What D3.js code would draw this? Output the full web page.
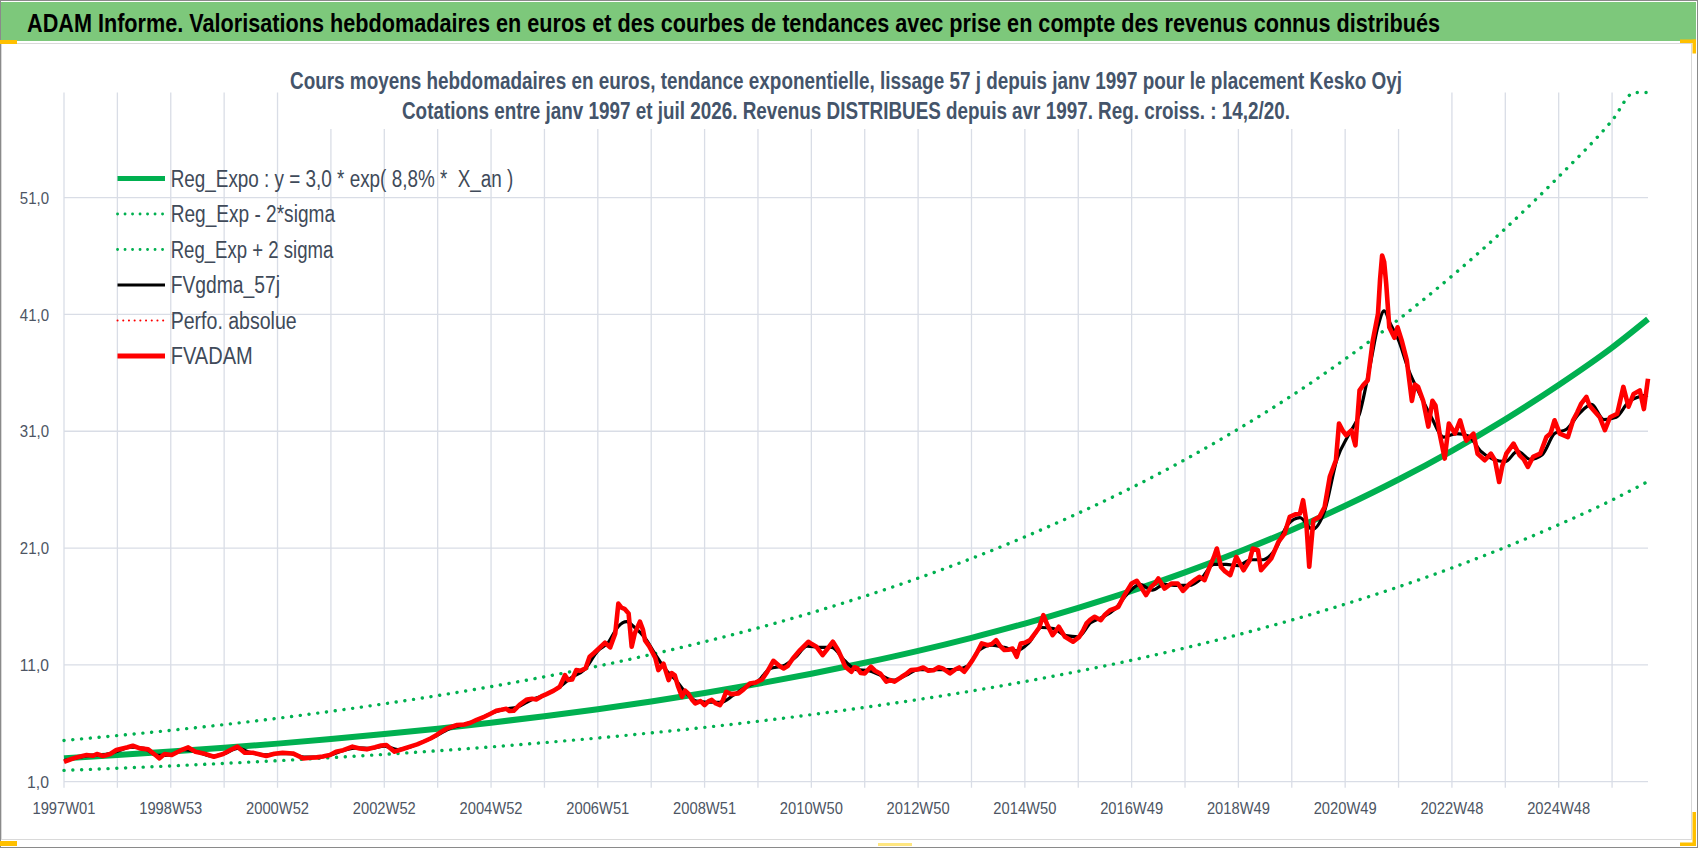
<!DOCTYPE html>
<html>
<head>
<meta charset="utf-8">
<script src="https://cdn.jsdelivr.net/npm/d3@7"></script>
<style>
  body { margin: 0; background: #fff; }
  svg { display: block; font-family: 'Liberation Sans', Arial, sans-serif; }
</style>
</head>
<body>
<div id="chart"></div>
<script>
// texts
const headerTitle = 'ADAM Informe. Valorisations hebdomadaires en euros et des courbes de tendances avec prise en compte des revenus connus distribués';
const chartTitle = [
    'Cours moyens hebdomadaires en euros, tendance exponentielle, lissage 57 j depuis janv 1997 pour le placement Kesko Oyj',
    'Cotations entre janv 1997 et juil 2026. Revenus DISTRIBUES depuis avr 1997. Reg. croiss. : 14,2/20.'
];
const seriesNames = ['Reg_Expo : y = 3,0 * exp( 8,8% *  X_an )', 'Reg_Exp - 2*sigma', 'Reg_Exp + 2 sigma', 'FVgdma_57j', 'Perfo. absolue', 'FVADAM'];

// axes
const lastWeek = 1543;
const xTickWeeks = [0, 104, 208, 312, 416, 520, 624, 728, 832, 936, 1040, 1144, 1248, 1352, 1456];
const xTickLabels = ['1997W01', '1998W53', '2000W52', '2002W52', '2004W52', '2006W51', '2008W51', '2010W50',
    '2012W50', '2014W50', '2016W49', '2018W49', '2020W49', '2022W48', '2024W48'];
const yTicks = [1, 11, 21, 31, 41, 51];
const yTickLabels = ['1,0', '11,0', '21,0', '31,0', '41,0', '51,0'];
const yMax = 60;

// trend curves, read once a year
const trendWeeks = [0, 52, 104, 156, 208, 260, 312, 364, 416, 468, 520, 572, 624, 676, 728, 780, 832, 884, 936, 988,
    1040, 1092, 1144, 1196, 1248, 1300, 1352, 1404, 1456, 1508, 1543];
const regExpo = [3.00, 3.28, 3.58, 3.90, 4.26, 4.65, 5.08, 5.54, 6.05, 6.61, 7.21, 7.87, 8.59, 9.38, 10.24, 11.18,
    12.20, 13.32, 14.54, 15.88, 17.33, 18.92, 20.66, 22.55, 24.62, 26.87, 29.33, 32.02, 34.96, 38.16, 40.6];
const regLow = [1.97, 2.15, 2.35, 2.57, 2.80, 3.06, 3.34, 3.65, 3.98, 4.35, 4.74, 5.18, 5.65, 6.17, 6.74, 7.36,
    8.03, 8.76, 9.57, 10.45, 11.40, 12.45, 13.59, 14.84, 16.20, 17.68, 19.30, 21.07, 23.00, 25.11, 26.7];
const highWeeks = [0, 52, 104, 156, 208, 260, 312, 364, 416, 468, 520, 572, 624, 676, 728, 780, 832, 884, 936, 988,
    1040, 1092, 1144, 1196, 1248, 1300, 1352, 1404, 1456, 1508, 1530, 1543];
const regHigh = [4.53, 4.95, 5.40, 5.89, 6.43, 7.02, 7.67, 8.37, 9.14, 9.98, 10.89, 11.89, 12.98, 14.16, 15.46, 16.88,
    18.42, 20.11, 21.96, 23.98, 26.17, 28.57, 31.20, 34.05, 37.18, 40.57, 44.29, 48.35, 52.79, 57.6, 60, 60];

// FVADAM weekly valuation (sampled)
const adamWeeks = [0, 6, 12, 18, 22, 28, 32, 38, 45, 51, 57, 62, 67, 74, 82, 89, 93, 98, 105, 113, 121, 128, 136, 146,
    155, 162, 169, 176, 184, 190, 197, 205, 213, 223, 233, 240, 246, 252, 259, 265, 272, 281, 288, 295, 303, 309, 314,
    322, 330, 337, 344, 350, 357, 363, 368, 373, 378, 383, 390, 396, 402, 408, 415, 421, 426, 431, 434, 438, 444, 451,
    456, 460, 465, 470, 477, 483, 488, 491, 495, 499, 503, 508, 512, 516, 521, 527, 532, 537, 540, 543, 546, 550, 553,
    556, 561, 564, 566, 570, 573, 576, 579, 584, 589, 592, 595, 598, 602, 605, 608, 612, 615, 620, 624, 628, 631, 635,
    639, 642, 645, 650, 657, 662, 668, 674, 680, 685, 691, 697, 701, 705, 710, 717, 725, 728, 733, 739, 744, 749, 754,
    758, 761, 767, 770, 773, 776, 780, 786, 790, 795, 801, 805, 809, 816, 820, 825, 831, 837, 842, 847, 852, 856, 863,
    868, 872, 877, 881, 885, 889, 894, 900, 904, 908, 912, 916, 920, 924, 928, 932, 936, 941, 947, 950, 954, 958, 963,
    966, 969, 975, 979, 983, 989, 993, 996, 1000, 1004, 1010, 1014, 1019, 1023, 1027, 1033, 1040, 1045, 1049, 1054,
    1059, 1063, 1066, 1072, 1079, 1085, 1090, 1097, 1102, 1106, 1111, 1116, 1120, 1123, 1127, 1131, 1136, 1142, 1149,
    1155, 1158, 1163, 1166, 1172, 1176, 1183, 1189, 1194, 1200, 1204, 1207, 1210, 1213, 1217, 1223, 1228, 1233, 1239,
    1242, 1246, 1249, 1254, 1258, 1262, 1266, 1270, 1275, 1280, 1282, 1284, 1286, 1288, 1291, 1296, 1299, 1303, 1308,
    1313, 1316, 1319, 1324, 1329, 1333, 1336, 1340, 1345, 1349, 1355, 1360, 1363, 1366, 1373, 1377, 1384, 1390, 1394,
    1398, 1401, 1405, 1412, 1418, 1422, 1426, 1431, 1438, 1444, 1448, 1452, 1457, 1465, 1470, 1474, 1478, 1483, 1486,
    1490, 1496, 1501, 1506, 1513, 1519, 1524, 1529, 1535, 1539, 1543];
const adamValues = [2.7, 2.9, 3.08, 3.2, 3.28, 3.22, 3.37, 3.2, 3.37, 3.71, 3.85, 3.95, 4.08, 3.85, 3.77, 3.28, 3.0,
    3.37, 3.28, 3.65, 3.94, 3.57, 3.42, 3.14, 3.37, 3.71, 4.0, 3.48, 3.48, 3.35, 3.2, 3.4, 3.48, 3.42, 3.0, 3.05, 3.08,
    3.15, 3.28, 3.57, 3.7, 4.0, 3.85, 3.77, 3.95, 4.1, 4.14, 3.57, 3.8, 4.0, 4.2, 4.42, 4.7, 5.0, 5.3, 5.56, 5.7, 5.85,
    5.9, 6.05, 6.3, 6.5, 6.8, 7.07, 7.15, 7.24, 7.05, 7.07, 7.6, 8.04, 8.1, 8.04, 8.3, 8.5, 8.8, 9.13, 10.12, 9.7, 9.75,
    10.55, 10.5, 10.7, 11.7, 12.0, 12.4, 12.9, 12.5, 13.7, 16.25, 15.9, 15.8, 15.4, 12.55, 13.7, 14.7, 14.0, 13.1, 12.6,
    12.1, 11.6, 10.55, 11.1, 9.7, 10.3, 10.1, 9.2, 8.27, 8.8, 8.56, 8.0, 7.7, 7.9, 7.56, 7.9, 8.0, 7.7, 7.56, 8.0, 8.7,
    8.5, 8.56, 8.9, 9.4, 9.5, 9.75, 10.4, 11.35, 10.9, 10.7, 10.9, 11.55, 12.27, 12.98, 12.8, 12.55, 11.84, 12.4, 12.98,
    12.27, 11.5, 10.84, 10.41, 10.8, 10.7, 10.3, 10.27, 10.84, 10.5, 10.27, 9.56, 9.7, 9.56, 9.98, 10.2, 10.55, 10.6,
    10.78, 10.5, 10.55, 10.8, 10.7, 10.27, 10.6, 10.78, 10.41, 10.9, 11.41, 12.0, 12.84, 12.69, 12.8, 13.12, 12.6,
    12.27, 12.3, 12.4, 11.69, 12.84, 12.9, 13.12, 13.83, 14.2, 15.26, 14.4, 13.55, 13.9, 14.26, 13.4, 13.2, 12.98, 13.4,
    14.0, 14.55, 14.9, 15.12, 14.83, 15.3, 15.69, 15.8, 15.97, 16.97, 17.97, 18.2, 17.68, 16.97, 17.68, 18.0, 18.4,
    17.54, 17.97, 17.97, 17.34, 17.97, 18.3, 18.54, 18.25, 19.39, 20.2, 20.96, 19.39, 19.0, 18.68, 20.25, 19.1, 19.96,
    20.96, 20.82, 19.1, 19.7, 20.1, 21.53, 22.24, 23.67, 23.9, 23.96, 25.1, 23.38, 19.4, 23.38, 23.67, 24.52, 27.1,
    28.52, 31.66, 31.0, 30.66, 31.08, 29.8, 34.5, 35.0, 35.36, 38.8, 41.06, 44.0, 46.05, 45.5, 43.6, 39.9, 39.0, 39.9,
    38.8, 37.1, 33.6, 35.0, 34.8, 33.6, 31.4, 33.6, 33.2, 30.8, 28.66, 31.66, 30.8, 31.94, 31.0, 30.2, 30.8, 29.08,
    28.52, 29.08, 28.5, 26.66, 28.0, 29.08, 29.94, 28.94, 28.6, 27.95, 28.8, 29.08, 30.5, 30.8, 31.94, 30.8, 30.5,
    31.94, 32.6, 33.37, 33.94, 33.2, 32.8, 32.2, 31.1, 32.2, 32.5, 34.8, 33.1, 34.2, 34.5, 32.9, 35.5];

// FVgdma_57j smoothed valuation (sampled)
const gdmaWeeks = [0, 13, 26, 39, 52, 65, 78, 91, 104, 117, 130, 143, 156, 169, 182, 195, 208, 221, 234, 247, 260,
    273, 286, 299, 312, 325, 338, 351, 364, 377, 390, 403, 416, 429, 442, 455, 468, 481, 494, 507, 520, 530, 540, 548,
    556, 566, 576, 586, 596, 606, 616, 628, 640, 652, 664, 676, 688, 700, 712, 724, 736, 748, 760, 772, 784, 796, 808,
    820, 832, 844, 856, 868, 880, 892, 904, 916, 928, 940, 952, 964, 976, 988, 1000, 1012, 1024, 1036, 1048, 1060,
    1072, 1084, 1096, 1108, 1120, 1132, 1144, 1156, 1168, 1180, 1192, 1204, 1216, 1228, 1240, 1252, 1262, 1272, 1280,
    1286, 1292, 1300, 1310, 1320, 1332, 1344, 1356, 1368, 1380, 1392, 1404, 1416, 1428, 1440, 1452, 1464, 1476, 1488,
    1500, 1512, 1524, 1536, 1543];
const gdmaValues = [2.8, 3.05, 3.25, 3.3, 3.6, 3.95, 3.85, 3.25, 3.3, 3.75, 3.55, 3.2, 3.4, 3.85, 3.5, 3.3, 3.4, 3.4,
    3.1, 3.1, 3.3, 3.7, 3.9, 3.85, 4.05, 3.75, 4.0, 4.45, 5.0, 5.6, 5.9, 6.3, 6.85, 7.2, 7.4, 8.0, 8.4, 9.0, 9.9, 10.6,
    12.2, 12.9, 14.3, 14.7, 14.2, 13.3, 11.9, 10.6, 9.7, 8.6, 7.9, 7.8, 7.8, 8.4, 9.1, 9.6, 10.7, 10.9, 11.6, 12.6,
    12.5, 12.5, 11.4, 10.6, 10.5, 10.1, 9.7, 10.1, 10.6, 10.6, 10.6, 10.6, 10.9, 12.3, 12.7, 12.5, 12.2, 12.9, 14.2,
    14.1, 13.5, 13.4, 14.6, 15.1, 15.8, 17.1, 17.9, 17.4, 17.9, 17.8, 17.8, 18.4, 19.6, 19.6, 19.5, 20.0, 20.0, 20.9,
    23.0, 23.6, 22.6, 24.2, 28.6, 30.8, 32.5, 36.5, 40.0, 41.3, 40.2, 38.8, 36.2, 34.3, 32.2, 30.5, 30.8, 30.6, 29.3,
    28.6, 28.4, 29.3, 28.6, 29.0, 30.8, 31.2, 32.5, 33.3, 32.0, 32.2, 33.5, 34.0, 34.1];

const width = 1698;
const height = 848;
const plot = { left: 64, right: 1648, top: 92.5, bottom: 781.7 };

const svg = d3.select('#chart')
    .append('svg')
    .attr('width', width)
    .attr('height', height);

// sheet background, header band and chart frame
svg.append('rect')
    .attr('width', width)
    .attr('height', height)
    .attr('fill', '#fff');

svg.append('rect')
    .attr('x', 1)
    .attr('y', 2)
    .attr('width', 1695)
    .attr('height', 39)
    .attr('fill', '#7dc87b');

svg.append('text')
    .attr('x', 27)
    .attr('y', 32)
    .attr('font-size', 25)
    .attr('font-weight', 'bold')
    .attr('fill', '#000')
    .attr('textLength', 1413)
    .attr('lengthAdjust', 'spacingAndGlyphs')
    .text(headerTitle);

svg.append('rect')
    .attr('x', 1.5)
    .attr('y', 43.5)
    .attr('width', 1690)
    .attr('height', 796)
    .attr('fill', 'none')
    .attr('stroke', '#d9d9d9');

const x = d3.scaleLinear()
    .domain([0, lastWeek])
    .range([plot.left, plot.right]);

const y = d3.scaleLinear()
    .domain([1, yMax])
    .range([plot.bottom, plot.top]);

// gridlines
const grid = svg.append('g')
    .attr('stroke', '#d9dde6')
    .attr('stroke-width', 1.3);

grid.selectAll('line.h')
    .data(yTicks)
    .join('line')
    .attr('class', 'h')
    .attr('x1', plot.left)
    .attr('x2', plot.right)
    .attr('y1', d => y(d))
    .attr('y2', d => y(d));

grid.selectAll('line.v')
    .data(d3.range(0, lastWeek, 52))
    .join('line')
    .attr('class', 'v')
    .attr('x1', d => x(d))
    .attr('x2', d => x(d))
    .attr('y1', plot.top)
    .attr('y2', plot.bottom + 6);

// axis labels
svg.append('g')
    .attr('font-size', 17)
    .attr('fill', '#4d5563')
    .attr('text-anchor', 'end')
    .selectAll('text')
    .data(yTicks)
    .join('text')
    .attr('x', 49)
    .attr('y', d => y(d) + 6.2)
    .attr('textLength', (d, i) => yTickLabels[i].length * 7.3)
    .attr('lengthAdjust', 'spacingAndGlyphs')
    .text((d, i) => yTickLabels[i]);

svg.append('g')
    .attr('font-size', 17)
    .attr('fill', '#4d5563')
    .attr('text-anchor', 'middle')
    .selectAll('text')
    .data(xTickWeeks)
    .join('text')
    .attr('x', d => x(d))
    .attr('y', 813.5)
    .attr('textLength', 63)
    .attr('lengthAdjust', 'spacingAndGlyphs')
    .text((d, i) => xTickLabels[i]);

// series
const line = (weeks, curve) => d3.line()
    .x((d, i) => x(weeks[i]))
    .y(d => y(d))
    .curve(curve);

const green = '#00b050';
const series = svg.append('g').attr('fill', 'none');

series.append('path')
    .attr('d', line(trendWeeks, d3.curveMonotoneX)(regExpo))
    .attr('stroke', green)
    .attr('stroke-width', 6);

series.append('path')
    .attr('d', line(trendWeeks, d3.curveMonotoneX)(regLow))
    .attr('stroke', green)
    .attr('stroke-width', 3.4)
    .attr('stroke-linecap', 'round')
    .attr('stroke-dasharray', '0.1 8.7');

series.append('path')
    .attr('d', line(highWeeks, d3.curveMonotoneX)(regHigh))
    .attr('stroke', green)
    .attr('stroke-width', 3.4)
    .attr('stroke-linecap', 'round')
    .attr('stroke-dasharray', '0.1 8.7');

series.append('path')
    .attr('d', line(gdmaWeeks, d3.curveMonotoneX)(gdmaValues))
    .attr('stroke', '#000')
    .attr('stroke-width', 3.2)
    .attr('stroke-linejoin', 'round');

series.append('path')
    .attr('d', line(adamWeeks, d3.curveLinear)(adamValues))
    .attr('stroke', '#ff0000')
    .attr('stroke-width', 4.6)
    .attr('stroke-linejoin', 'round');

// chart title sits on a white box above the plot
svg.append('rect')
    .attr('x', 284)
    .attr('y', 60)
    .attr('width', 1126)
    .attr('height', 69)
    .attr('fill', '#fff');

svg.append('g')
    .attr('font-size', 23)
    .attr('font-weight', 'bold')
    .attr('fill', '#44546a')
    .attr('text-anchor', 'middle')
    .selectAll('text')
    .data(chartTitle)
    .join('text')
    .attr('x', 846)
    .attr('y', (_, i) => 88.5 + i * 30)
    .attr('textLength', (_, i) => [1112, 888][i])
    .attr('lengthAdjust', 'spacingAndGlyphs')
    .text(d => d);

// legend
const legendStyle = [
    { color: green, width: 5, dash: null },
    { color: green, width: 2.8, dash: '0.1 7.4' },
    { color: green, width: 2.8, dash: '0.1 7.4' },
    { color: '#000', width: 3.2, dash: null },
    { color: '#ff0000', width: 2, dash: '0.1 5.6' },
    { color: '#ff0000', width: 5, dash: null }
];
const legendRows = [178.5, 214, 249.5, 285, 320.5, 356];
const legendWidths = [342.7, 164.3, 162.7, 109.3, 126, 82];

const legend = svg.append('g');

legend.selectAll('line')
    .data(legendStyle)
    .join('line')
    .attr('x1', 117.5)
    .attr('x2', 165)
    .attr('y1', (_, i) => legendRows[i])
    .attr('y2', (_, i) => legendRows[i])
    .attr('stroke', d => d.color)
    .attr('stroke-width', d => d.width)
    .attr('stroke-linecap', d => d.dash ? 'round' : 'butt')
    .attr('stroke-dasharray', d => d.dash);

legend.selectAll('text')
    .data(seriesNames)
    .join('text')
    .attr('x', 170.7)
    .attr('y', (_, i) => legendRows[i] + 8.4)
    .attr('font-size', 23)
    .attr('fill', '#404a59')
    .attr('textLength', (_, i) => legendWidths[i])
    .attr('lengthAdjust', 'spacingAndGlyphs')
    .style('white-space', 'pre')
    .text(d => d);

// outer border and selection handles
svg.append('rect')
    .attr('x', 0.5)
    .attr('y', 0.5)
    .attr('width', width - 1)
    .attr('height', height - 1)
    .attr('fill', 'none')
    .attr('stroke', '#8a8a8a');

const handles = [
    [0, 40, 17, 4], [1680, 39.5, 16, 3.5], [1692.5, 39.5, 3.5, 14],
    [0, 841, 17, 5], [1692.5, 812, 3.5, 34], [1680, 842.5, 16, 3.5]
];
svg.append('g')
    .attr('fill', '#ffc000')
    .selectAll('rect')
    .data(handles)
    .join('rect')
    .attr('x', d => d[0])
    .attr('y', d => d[1])
    .attr('width', d => d[2])
    .attr('height', d => d[3]);

svg.append('rect')
    .attr('x', 878)
    .attr('y', 843)
    .attr('width', 34)
    .attr('height', 3)
    .attr('fill', '#ffe680');
</script>
</body>
</html>
